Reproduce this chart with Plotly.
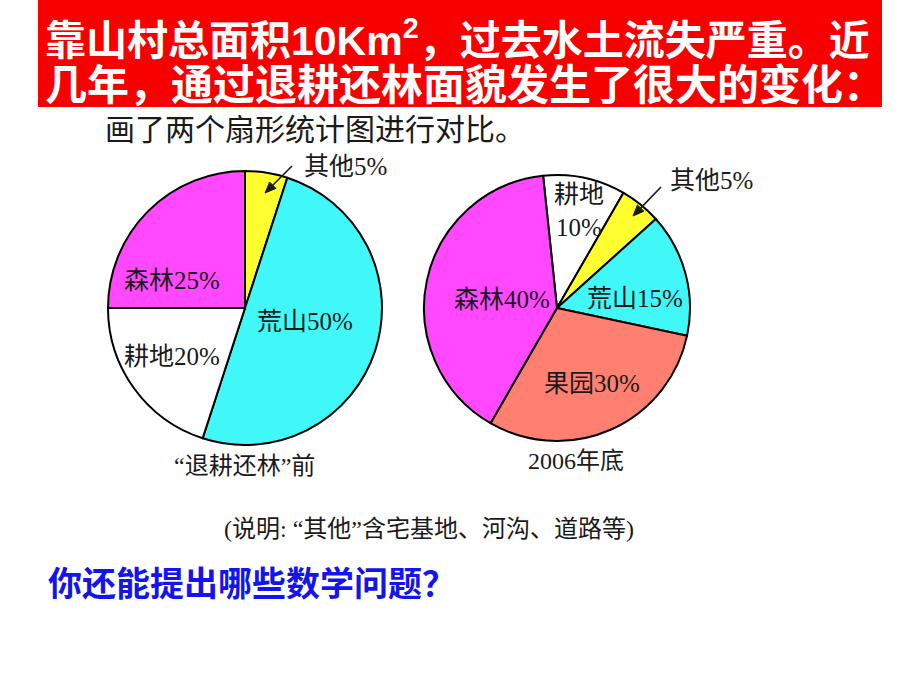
import math
import plotly.graph_objects as go

# ---------------- data ----------------
before_labels = ["其他", "荒山", "耕地", "森林"]
before_values = [5, 50, 20, 25]
after_labels = ["耕地", "其他", "荒山", "果园", "森林"]
after_values = [10, 5, 15, 30, 40]

before_caption = "“退耕还林”前"
after_caption = "2006年底"
title_lines = ["靠山村总面积10Km<sup>2</sup>，过去水土流失严重。近",
               "几年，通过退耕还林面貌发生了很大的变化："]
subtitle = "画了两个扇形统计图进行对比。"
note = "(说明: “其他”含宅基地、河沟、道路等)"
question = "你还能提出哪些数学问题？"

# ---------------- styles ----------------
W, H = 920, 690
colors = {"其他": "#FFFF30", "荒山": "#40F8F8", "耕地": "#FFFFFF",
          "森林": "#FF48FF", "果园": "#FF8070"}
SERIF = "Liberation Serif, Noto Sans CJK SC"
SANS_B = "Liberation Sans, Noto Sans CJK SC"
CJK_B = "Noto Sans CJK SC"


def px(x):
    return x / W


def py(y):
    return 1 - y / H


def domain(cx, cy, r):
    return dict(x=[px(cx - r), px(cx + r)], y=[py(cy + r), py(cy - r)])


fig = go.Figure()
fig.add_trace(go.Pie(
    labels=before_labels, values=before_values, sort=False,
    direction="clockwise", rotation=0,
    marker=dict(colors=[colors[c] for c in before_labels],
                line=dict(color="black", width=2)),
    textinfo="none", textposition="none", showlegend=False,
    domain=domain(245, 308, 137)))
fig.add_trace(go.Pie(
    labels=after_labels, values=after_values, sort=False,
    direction="clockwise", rotation=-6,
    marker=dict(colors=[colors[c] for c in after_labels],
                line=dict(color="black", width=2)),
    textinfo="none", textposition="none", showlegend=False,
    domain=domain(557, 308, 133)))

ann = []
shapes = [dict(type="rect", xref="paper", yref="paper",
               x0=px(38), x1=px(882), y0=py(107), y1=py(0),
               fillcolor="#F80000", line=dict(width=0), layer="below")]


def text(x, y, s, size=25, color="#1a1a1a", family=SERIF, xanchor="center",
         weight="normal", align="center"):
    ann.append(dict(x=px(x), y=py(y), xref="paper", yref="paper", text=s,
                    showarrow=False, xanchor=xanchor, yanchor="middle",
                    align=align,
                    font=dict(size=size, color=color, family=family,
                              weight=weight)))


def arrow(hx, hy, tx, ty, L=11, hw=4.5):
    d = math.hypot(hx - tx, hy - ty)
    ux, uy = (hx - tx) / d, (hy - ty) / d
    bx, by = hx - ux * L, hy - uy * L
    shapes.append(dict(type="line", xref="paper", yref="paper",
                       x0=px(tx), y0=py(ty), x1=px(bx), y1=py(by),
                       line=dict(color="#1a1a1a", width=1.6)))
    p1 = (bx - uy * hw, by + ux * hw)
    p2 = (bx + uy * hw, by - ux * hw)
    path = (f"M {px(hx)} {py(hy)} L {px(p1[0])} {py(p1[1])} "
            f"L {px(p2[0])} {py(p2[1])} Z")
    shapes.append(dict(type="path", xref="paper", yref="paper", path=path,
                       fillcolor="#1a1a1a", line=dict(color="#1a1a1a", width=1)))


def lab(cat, vals, labels):
    return f"{cat}{vals[labels.index(cat)]}%"


# left pie labels
text(345, 166, lab("其他", before_values, before_labels))
text(172, 281, lab("森林", before_values, before_labels))
text(305, 321, lab("荒山", before_values, before_labels))
text(172, 356, lab("耕地", before_values, before_labels))
arrow(265, 193, 292, 166)

# right pie labels
text(579, 211, "耕地<br>" + f"{after_values[after_labels.index('耕地')]}%")
text(711, 180, lab("其他", after_values, after_labels))
text(635, 298, lab("荒山", after_values, after_labels))
text(502, 299, lab("森林", after_values, after_labels))
text(592, 383, lab("果园", after_values, after_labels))
arrow(633, 216, 661, 187)

# captions
text(244, 466, before_caption, size=24)
text(576, 461, after_caption, size=24)
text(429, 529, note, size=24)
text(103, 130, subtitle, size=30, xanchor="left")

# banner
text(43, 38, title_lines[0], size=41, color="white", family=SANS_B,
     xanchor="left", weight="bold")
text(43, 85, title_lines[1], size=42, color="white", family=SANS_B,
     xanchor="left", weight="bold")

text(46, 581, question, size=34, color="#1414EE", family=CJK_B,
     xanchor="left", weight="bold")

fig.update_layout(
    width=W, height=H, margin=dict(l=0, r=0, t=0, b=0),
    paper_bgcolor="white", plot_bgcolor="white",
    annotations=ann, shapes=shapes,
)

fig.write_html("out.html")
